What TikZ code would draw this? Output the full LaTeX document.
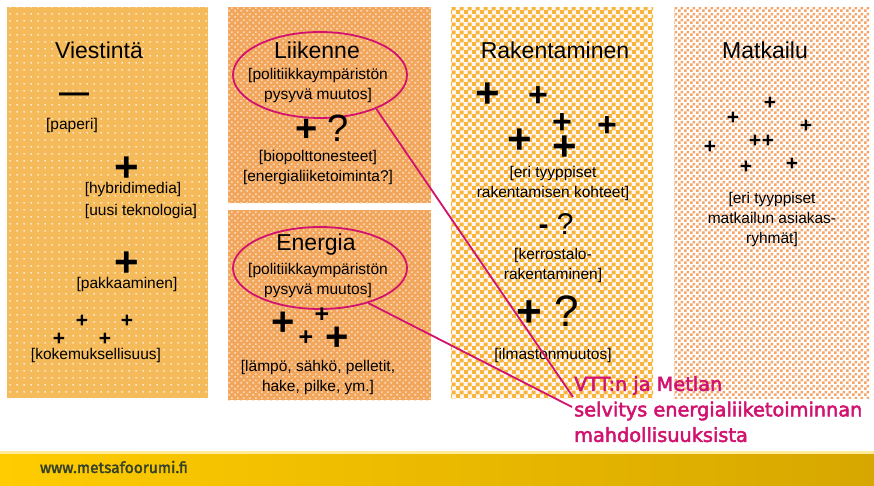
\documentclass[tikz,border=0pt]{standalone}
\usepackage{fontspec}
\setmainfont{Liberation Sans}
\newfontfamily\callfont[FakeBold=2.5]{DejaVu Sans}
\newfontfamily\footfont[FakeBold=2]{Fira Sans}
\usetikzlibrary{patterns.meta,shapes.geometric}
\definecolor{vorange}{HTML}{F5BA5A}
\definecolor{lorange}{HTML}{F2A65C}
\definecolor{llight}{HTML}{FBDCBC}
\definecolor{rorange}{HTML}{F6B43C}
\definecolor{morange}{HTML}{F4A56A}
\definecolor{callc}{HTML}{D1126E}
\definecolor{barl}{HTML}{FFCC00}
\definecolor{barr}{HTML}{D6A700}
\definecolor{footc}{HTML}{34402A}
\tikzdeclarepattern{name=vdots,type=uncolored,
  bounding box={(0pt,0pt) and (7pt,7pt)},tile size={(7pt,7pt)},
  code={\fill (3.5pt,3.5pt) circle (1pt);}}
\tikzdeclarepattern{name=lgrid,type=uncolored,
  bounding box={(0pt,0pt) and (6pt,6pt)},tile size={(6pt,6pt)},
  code={\fill (0.5pt,0.5pt) rectangle (2.5pt,2.5pt); \fill (3.5pt,3.5pt) rectangle (5.5pt,5.5pt);}}
\tikzdeclarepattern{name=rsq,type=uncolored,
  bounding box={(0pt,0pt) and (8pt,8pt)},tile size={(8pt,8pt)},
  code={\fill (0pt,0pt) rectangle (4.4pt,4.4pt); \fill (4pt,4pt) rectangle (8.4pt,8.4pt);}}
\tikzdeclarepattern{name=mchk,type=uncolored,
  bounding box={(0pt,0pt) and (6pt,6pt)},tile size={(6pt,6pt)},
  code={\fill (0pt,0pt) rectangle (3pt,3pt); \fill (3pt,3pt) rectangle (6pt,6pt);}}
\begin{document}
\begin{tikzpicture}[x=1pt,y=-1pt,
  panel/.style={rectangle,anchor=north west,inner sep=0,draw=none},
  ttl/.style={inner sep=0,font=\fontsize{23}{26}\selectfont},
  lbl/.style={inner sep=0,align=center,font=\fontsize{15.5}{20}\selectfont},
  bigplus/.style={inner sep=0,font=\fontsize{42}{42}\selectfont\bfseries},
  midplus/.style={inner sep=0,font=\fontsize{34}{34}\selectfont\bfseries},
  smallplus/.style={inner sep=0,font=\fontsize{21}{21}\selectfont\bfseries},
  eplus/.style={inner sep=0,font=\fontsize{25}{25}\selectfont\bfseries},
  sym/.style={inner sep=0,font=\fontsize{#1}{#1}\selectfont},
  oval/.style={ellipse,draw=callc,line width=1.8pt,inner sep=0},
  link/.style={draw=callc,line width=1.8pt}]
\useasboundingbox (0,0) rectangle (874,486);
\fill[white] (0,0) rectangle (874,486);
% panels
\node[panel,minimum width=201,minimum height=391,fill=vorange,
  postaction={pattern=vdots,pattern color=white!92!vorange}] (pv) at (7,7) {};
\node[panel,minimum width=203,minimum height=196,fill=lorange,
  postaction={pattern=lgrid,pattern color=llight}] (pl) at (228,7) {};
\node[panel,minimum width=203,minimum height=190,fill=lorange,
  postaction={pattern=lgrid,pattern color=llight}] (pe) at (228,210) {};
\node[panel,minimum width=202,minimum height=391,fill=white!94!orange,
  postaction={pattern=rsq,pattern color=rorange}] (pr) at (451,7) {};
\node[panel,minimum width=196,minimum height=391,fill=white,
  postaction={pattern=mchk,pattern color=morange}] (pm) at (674,7) {};
% Viestinta
\node[ttl] (tv) at (99,50) {Viestintä};
\node[sym=30,font=\fontsize{30}{30}\selectfont\bfseries] (vdash) at (74,98) {—};
\node[lbl] (vpap) at (72,125) {[paperi]};
\node[bigplus] (vp1) at (127,169) {+};
\node[lbl] (vhyb) at (133,189) {[hybridimedia]};
\node[lbl] (vuus) at (141,211) {[uusi teknologia]};
\node[bigplus] (vp2) at (127,264) {+};
\node[lbl] (vpak) at (127,284) {[pakkaaminen]};
\node[smallplus] (vs1) at (82,321) {+};
\node[smallplus] (vs2) at (127,321) {+};
\node[smallplus] (vs3) at (59,339) {+};
\node[smallplus] (vs4) at (105,339) {+};
\node[lbl] (vkok) at (96,355) {[kokemuksellisuus]};
% Liikenne
\node[oval,minimum width=174,minimum height=86] (liik) at (320,75) {};
\node[ttl] (tl) at (317,50) {Liikenne};
\node[lbl] (lpol) at (318,85) {[politiikkaympäristön\\pysyvä muutos]};
\node[sym=38] (lq) at (322,128) {\textbf{+} ?};
\node[lbl] (lbio) at (318,167) {[biopolttonesteet]\\{}[energialiiketoiminta?]};
% Energia
\node[oval,minimum width=174,minimum height=82] (ener) at (320,268) {};
\node[ttl] (te) at (316,245) {Energia};
\node[lbl] (epol) at (318,280) {[politiikkaympäristön\\pysyvä muutos]};
\node[sym=40,font=\fontsize{40}{40}\selectfont\bfseries] (ep1) at (283,324) {+};
\node[eplus] (ep2) at (322,315) {+};
\node[eplus] (ep3) at (306,338) {+};
\node[sym=40,font=\fontsize{40}{40}\selectfont\bfseries] (ep4) at (337,339) {+};
\node[lbl] (elam) at (318,377) {[lämpö, sähkö, pelletit,\\hake, pilke, ym.]};
% Rakentaminen
\node[ttl] (tr) at (555,50) {Rakentaminen};
\node[bigplus] (rp1) at (488,95) {+};
\node[midplus] (rp2) at (538,97) {+};
\node[midplus] (rp3) at (562,124) {+};
\node[midplus] (rp4) at (607,127) {+};
\node[bigplus] (rp5) at (520,141) {+};
\node[bigplus] (rp6) at (565,148) {+};
\node[lbl] (rer) at (553,183) {[eri tyyppiset\\rakentamisen kohteet]};
\node[sym=30] (rmq) at (556,224) {\textbf{-} ?};
\node[lbl] (rker) at (553,265) {[kerrostalo-\\rakentaminen]};
\node[sym=44] (rpq) at (548,311) {\textbf{+} ?};
\node[lbl] (ril) at (553,355) {[ilmastonmuutos]};
% Matkailu
\node[ttl] (tm) at (765,50) {Matkailu};
\node[smallplus] (m1) at (770,103) {+};
\node[smallplus] (m2) at (733,118) {+};
\node[smallplus] (m3) at (806,126) {+};
\node[smallplus] (m4) at (710,147) {+};
\node[smallplus] (m5) at (755,141) {+};
\node[smallplus] (m6) at (768,141) {+};
\node[smallplus] (m7) at (746,167) {+};
\node[smallplus] (m8) at (792,164) {+};
\node[lbl] (mer) at (772,219) {[eri tyyppiset\\matkailun asiakas-\\ryhmät]};
% callout
\node[anchor=north west,inner sep=0,align=left,text=callc,
  font=\callfont\fontsize{19.3}{25.5}\selectfont] (call) at (574,376)
  {VTT:n ja Metlan\\selvitys energialiiketoiminnan\\mahdollisuuksista};
\coordinate (c1) at (573,397);
\coordinate (c2) at (572,407);
\draw[link] (liik.-31) -- (c1);
\draw[link] (ener.-36) -- (c2);
% footer
\shade[left color=barl,right color=barr] (0,453) rectangle (874,486);
\fill[barl!40!white] (0,451) rectangle (874,453.5);
\node[inner sep=0,text=footc,font=\footfont\fontsize{15.5}{18}\selectfont] (url) at (114,467) {www.metsafoorumi.fi};
\end{tikzpicture}
\end{document}
